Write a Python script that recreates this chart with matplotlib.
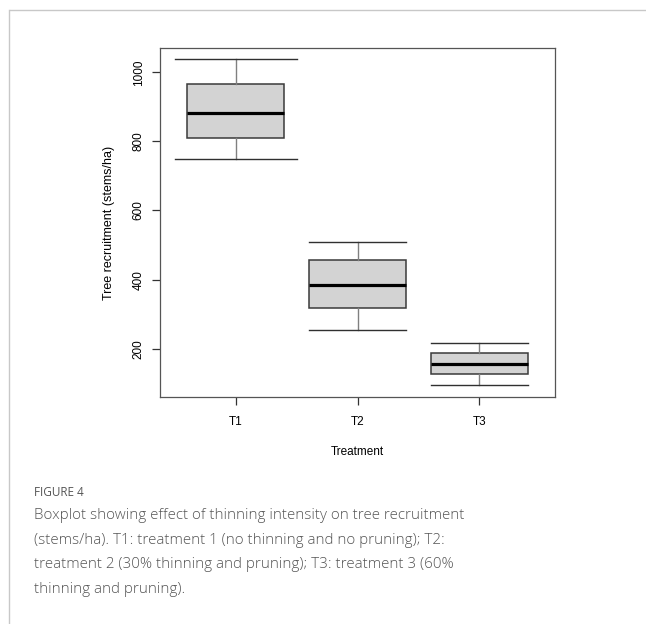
import matplotlib.pyplot as plt
from matplotlib.lines import Line2D

plt.rcParams['font.family'] = ['Liberation Sans', 'DejaVu Sans']

treatments = ['T1', 'T2', 'T3']
whisker_low = [748, 255, 96]
q1 = [809, 318, 126]
median = [881, 385, 155]
q3 = [966, 457, 188]
whisker_high = [1039, 508, 217]
cap_widths = [1.0, 0.8, 0.8]

stats = []
for i, name in enumerate(treatments):
    stats.append({'label': name, 'whislo': whisker_low[i], 'q1': q1[i], 'med': median[i],
                  'q3': q3[i], 'whishi': whisker_high[i], 'fliers': []})

fig = plt.figure(figsize=(6.46, 6.24), dpi=100)

# thin grey frame lines of the page
fig.add_artist(Line2D([10 / 646, 1], [1 - 10 / 624, 1 - 10 / 624], color='#c8c8c8', lw=1))
fig.add_artist(Line2D([9 / 646, 9 / 646], [0, 1 - 10 / 624], color='#c8c8c8', lw=1))

ax = fig.add_axes([160 / 646, 1 - 396.7 / 624, 395 / 646, (396.7 - 48.3) / 624])
ax.bxp(stats, positions=[1, 2, 3], widths=0.8, capwidths=cap_widths, patch_artist=True,
       showfliers=False,
       boxprops=dict(facecolor='#d3d3d3', edgecolor='#3a3a3a', linewidth=1.1),
       medianprops=dict(color='black', linewidth=2.3),
       whiskerprops=dict(color='#808080', linewidth=1.0),
       capprops=dict(color='#303030', linewidth=1.0))

ax.set_xlim(0.38, 3.62)
ax.set_ylim(61, 1069.5)
ax.set_yticks([200, 400, 600, 800, 1000])
ax.set_xticks([1, 2, 3])
ax.set_xticklabels(treatments)
for lbl in ax.get_yticklabels():
    lbl.set_rotation(90)
    lbl.set_va('center')
ax.tick_params(axis='both', direction='out', length=6, width=0.9, color='#333333', labelsize=8.5)
ax.tick_params(axis='y', pad=5)
ax.tick_params(axis='x', pad=8)
for sp in ax.spines.values():
    sp.set_color('#555555')
    sp.set_linewidth(0.9)

ax.set_ylabel('Tree recruitment (stems/ha)', fontsize=9, labelpad=13)
ax.set_xlabel('Treatment', fontsize=8.5, labelpad=13)

fig.text(34 / 646, 1 - 492 / 624, 'FIGURE 4', fontsize=8.5, color='#555555',
         family=['Open Sans', 'DejaVu Sans'], va='center')
caption = ('Boxplot showing effect of thinning intensity on tree recruitment\n'
           '(stems/ha). T1: treatment 1 (no thinning and no pruning); T2:\n'
           'treatment 2 (30% thinning and pruning); T3: treatment 3 (60%\n'
           'thinning and pruning).')
fig.text(34 / 646, 1 - 508 / 624, caption, fontsize=10.9, color='#555555',
         family=['Open Sans', 'DejaVu Sans'], fontweight='light', va='top', linespacing=1.88)

fig.savefig('out.png', dpi=100)
